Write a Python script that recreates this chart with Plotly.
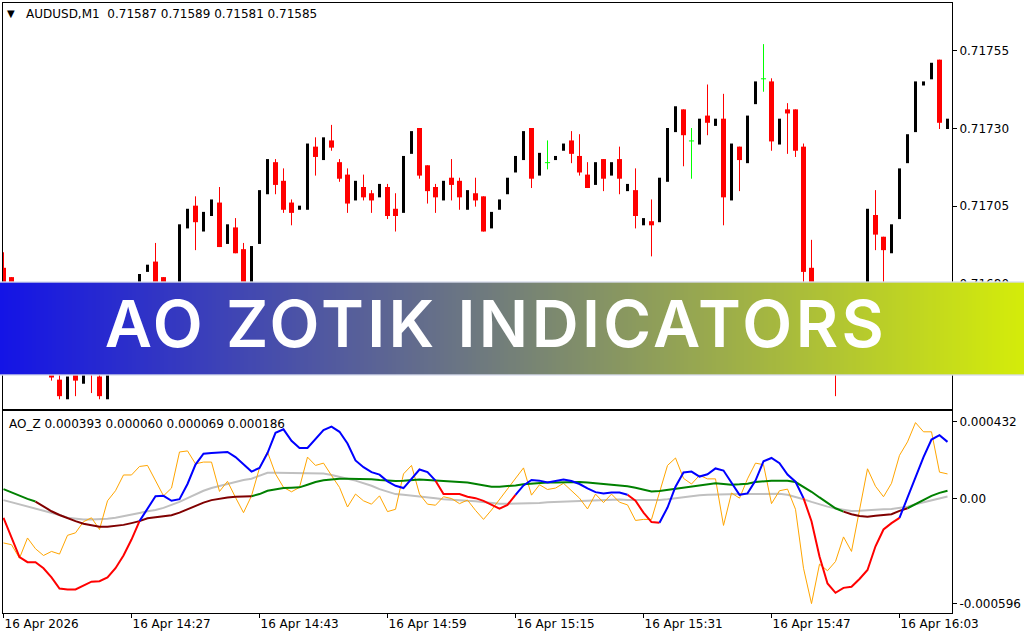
import plotly.graph_objects as go

# ---------------- data ----------------
time_labels = ["16 Apr 2026", "16 Apr 14:27", "16 Apr 14:43", "16 Apr 14:59",
               "16 Apr 15:15", "16 Apr 15:31", "16 Apr 15:47", "16 Apr 16:03"]
time_label_bars = [0, 16, 32, 48, 64, 80, 96, 112]

price_ticks = [0.71755, 0.71730, 0.71705, 0.71680, 0.71655]
ind_ticks = [0.000432, 0.0, -0.000596]
ind_tick_text = ["0.000432", "0.00", "-0.000596"]

header_main = "AUDUSD,M1\u00a0 0.71587 0.71589 0.71581 0.71585"
header_ind = "AO_Z 0.000393 0.000060 0.000069 0.000186"
banner_text = "AO ZOTIK INDICATORS"

open_ = [0.71685, 0.71682, 0.71668, 0.71662, 0.71666, 0.71657, 0.71653, 0.71649, 0.71643, 0.71652,
         0.71648, 0.71660, 0.71650, 0.71643, 0.71662, 0.71668, 0.71664, 0.71671, 0.71684, 0.71687,
         0.71682, 0.71670, 0.71678, 0.71698, 0.71705, 0.71697, 0.71702, 0.71706, 0.71693, 0.71698,
         0.71691, 0.71679, 0.71693, 0.71709, 0.71719, 0.71713, 0.71706, 0.71704, 0.71704, 0.71724,
         0.71720, 0.71726, 0.71719, 0.71715, 0.71707, 0.71711, 0.71709, 0.71708, 0.71711, 0.71704,
         0.71703, 0.71722, 0.71730, 0.71718, 0.71711, 0.71707, 0.71714, 0.71713, 0.71704, 0.71709,
         0.71708, 0.71698, 0.71704, 0.71709, 0.71716, 0.71720, 0.71730, 0.71715, 0.71719, 0.71720,
         0.71723, 0.71726, 0.71721, 0.71715, 0.71712, 0.71720, 0.71715, 0.71720, 0.71710, 0.71710,
         0.71699, 0.71700, 0.71700, 0.71713, 0.71729, 0.71736, 0.71726, 0.71725, 0.71734, 0.71731,
         0.71733, 0.71707, 0.71724, 0.71719, 0.71738, 0.71746, 0.71745, 0.71725, 0.71736, 0.71736,
         0.71724, 0.71685, 0.71664, 0.71656, 0.71660, 0.71654, 0.71662, 0.71668, 0.71664, 0.71702,
         0.71695, 0.71690, 0.71701, 0.71719, 0.71729, 0.71744, 0.71746, 0.71752, 0.71730]
high = [0.71690, 0.71682, 0.71670, 0.71666, 0.71667, 0.71659, 0.71654, 0.71651, 0.71650, 0.71653,
        0.71655, 0.71661, 0.71651, 0.71662, 0.71668, 0.71670, 0.71672, 0.71683, 0.71686, 0.71693,
        0.71682, 0.71678, 0.71699, 0.71704, 0.71708, 0.71703, 0.71707, 0.71711, 0.71699, 0.71701,
        0.71693, 0.71692, 0.71710, 0.71720, 0.71720, 0.71717, 0.71707, 0.71705, 0.71725, 0.71727,
        0.71727, 0.71731, 0.71720, 0.71717, 0.71713, 0.71715, 0.71710, 0.71712, 0.71712, 0.71709,
        0.71721, 0.71729, 0.71730, 0.71718, 0.71712, 0.71713, 0.71720, 0.71714, 0.71710, 0.71714,
        0.71708, 0.71703, 0.71707, 0.71714, 0.71721, 0.71729, 0.71730, 0.71722, 0.71726, 0.71721,
        0.71725, 0.71729, 0.71728, 0.71719, 0.71719, 0.71720, 0.71719, 0.71724, 0.71712, 0.71717,
        0.71701, 0.71707, 0.71714, 0.71730, 0.71737, 0.71736, 0.71730, 0.71733, 0.71744, 0.71733,
        0.71741, 0.71725, 0.71724, 0.71734, 0.71745, 0.71757, 0.71746, 0.71733, 0.71738, 0.71736,
        0.71725, 0.71694, 0.71666, 0.71660, 0.71662, 0.71662, 0.71668, 0.71670, 0.71704, 0.71710,
        0.71695, 0.71699, 0.71717, 0.71728, 0.71745, 0.71745, 0.71751, 0.71752, 0.71733]
low = [0.71673, 0.71665, 0.71660, 0.71662, 0.71655, 0.71652, 0.71649, 0.71643, 0.71643, 0.71644,
       0.71648, 0.71645, 0.71643, 0.71643, 0.71662, 0.71662, 0.71664, 0.71671, 0.71684, 0.71674,
       0.71668, 0.71670, 0.71678, 0.71698, 0.71691, 0.71697, 0.71702, 0.71692, 0.71693, 0.71690,
       0.71678, 0.71679, 0.71693, 0.71709, 0.71709, 0.71703, 0.71699, 0.71704, 0.71704, 0.71715,
       0.71720, 0.71723, 0.71713, 0.71703, 0.71707, 0.71707, 0.71703, 0.71708, 0.71701, 0.71697,
       0.71703, 0.71722, 0.71714, 0.71706, 0.71703, 0.71707, 0.71707, 0.71704, 0.71704, 0.71705,
       0.71697, 0.71698, 0.71704, 0.71709, 0.71716, 0.71720, 0.71711, 0.71715, 0.71717, 0.71720,
       0.71723, 0.71719, 0.71715, 0.71711, 0.71712, 0.71710, 0.71715, 0.71709, 0.71710, 0.71698,
       0.71699, 0.71689, 0.71700, 0.71713, 0.71729, 0.71718, 0.71714, 0.71725, 0.71728, 0.71731,
       0.71699, 0.71707, 0.71710, 0.71719, 0.71738, 0.71742, 0.71723, 0.71725, 0.71722, 0.71721,
       0.71680, 0.71660, 0.71653, 0.71656, 0.71644, 0.71654, 0.71662, 0.71662, 0.71664, 0.71691,
       0.71680, 0.71690, 0.71701, 0.71719, 0.71729, 0.71744, 0.71746, 0.71730, 0.71730]
close = [0.71675, 0.71668, 0.71662, 0.71666, 0.71657, 0.71654, 0.71650, 0.71644, 0.71650, 0.71649,
         0.71655, 0.71654, 0.71644, 0.71662, 0.71668, 0.71664, 0.71672, 0.71683, 0.71686, 0.71676,
         0.71670, 0.71678, 0.71699, 0.71704, 0.71700, 0.71703, 0.71707, 0.71692, 0.71699, 0.71690,
         0.71680, 0.71692, 0.71710, 0.71720, 0.71712, 0.71704, 0.71703, 0.71705, 0.71725, 0.71721,
         0.71727, 0.71724, 0.71714, 0.71706, 0.71713, 0.71708, 0.71707, 0.71712, 0.71702, 0.71702,
         0.71721, 0.71729, 0.71715, 0.71710, 0.71708, 0.71713, 0.71712, 0.71708, 0.71710, 0.71707,
         0.71697, 0.71703, 0.71707, 0.71714, 0.71721, 0.71729, 0.71714, 0.71722, 0.71719, 0.71721,
         0.71725, 0.71722, 0.71716, 0.71711, 0.71719, 0.71714, 0.71719, 0.71714, 0.71712, 0.71702,
         0.71701, 0.71699, 0.71714, 0.71730, 0.71737, 0.71728, 0.71726, 0.71733, 0.71732, 0.71733,
         0.71708, 0.71725, 0.71720, 0.71734, 0.71745, 0.71746, 0.71726, 0.71733, 0.71735, 0.71723,
         0.71684, 0.71664, 0.71656, 0.71660, 0.71654, 0.71662, 0.71668, 0.71664, 0.71704, 0.71696,
         0.71691, 0.71699, 0.71717, 0.71728, 0.71745, 0.71745, 0.71751, 0.71732, 0.71733]

# indicator values, in millionths (1e-6)
ao_main_micro = [-110, -224, -332, -361, -361, -395, -447, -510, -515, -515,
                 -494, -471, -468, -447, -395, -323, -233, -129, -56, 12,
                 14, -14, -5, 81, 191, 252, 256, 260, 262, 233,
                 190, 151, 172, 256, 370, 390, 325, 285, 285, 338,
                 386, 405, 376, 310, 214, 176, 148, 134, 96, 71,
                 58, 110, 163, 148, 100, 24, 24, 24, 9, 1,
                 -14, -37, -58, -37, 20, 73, 104, 100, 90, 98,
                 106, 98, 81, 56, 35, 28, 33, 33, 20, -14,
                 -81, -134, -138, -52, 66, 146, 151, 123, 136, 169,
                 157, 90, 20, 28, 100, 209, 228, 199, 134, 94,
                 1, -129, -329, -481, -534, -506, -500, -456, -405, -271,
                 -176, -140, -110, 1, 119, 233, 332, 357, 319]
ao_signal_micro = [52, 33, 12, -3, -18, -45, -73, -94, -113, -129,
                   -144, -153, -161, -161, -157, -150, -140, -129, -113, -106,
                   -100, -96, -81, -62, -43, -24, -10, -1, 5, 9,
                   10, 12, 24, 43, 52, 58, 60, 62, 77, 92,
                   102, 108, 111, 111, 111, 110, 108, 104, 100, 98,
                   100, 104, 106, 104, 102, 98, 96, 92, 89, 81,
                   70, 66, 66, 68, 73, 79, 83, 87, 89, 90,
                   92, 94, 92, 89, 85, 81, 77, 73, 68, 60,
                   50, 39, 41, 47, 56, 62, 66, 73, 79, 85,
                   81, 77, 79, 83, 92, 98, 100, 100, 100, 92,
                   66, 37, 5, -24, -56, -75, -90, -100, -104, -98,
                   -94, -90, -71, -56, -33, -10, 14, 31, 43]
ao_slow_micro = [-10, -22, -33, -45, -56, -66, -79, -94, -110, -115,
                 -119, -119, -119, -115, -110, -102, -94, -83, -73, -66,
                 -54, -39, -20, 1, 24, 43, 58, 70, 83, 94,
                 104, 111, 129, 144, 144, 144, 144, 142, 142, 142,
                 140, 132, 123, 111, 100, 87, 71, 52, 37, 24,
                 20, 16, 12, 7, 1, -5, -9, -10, -14, -16,
                 -22, -26, -30, -30, -30, -30, -28, -26, -22, -20,
                 -18, -18, -16, -14, -10, -9, -7, -7, -9, -10,
                 -10, -10, -9, -5, 1, 9, 14, 18, 20, 22,
                 24, 24, 24, 24, 24, 26, 28, 26, 20, 9,
                 -5, -20, -35, -47, -58, -66, -71, -70, -66, -64,
                 -62, -60, -54, -47, -33, -22, -9, 3, 10]
ao_raw_micro = [-252, -262, -338, -224, -285, -323, -300, -315, -209, -195,
                -132, -110, -176, -14, 43, 132, 132, 180, 186, 100,
                14, 58, 262, 268, 195, 205, 205, 39, 96, 5,
                -81, 14, 172, 262, 138, 62, 37, 62, 233, 186,
                199, 129, 62, -49, 24, -14, -33, 14, -75, -62,
                138, 186, 24, -33, -39, 9, -1, -30, -10, -68,
                -119, -66, -5, 54, 113, 172, 18, 77, 50, 58,
                85, 45, 1, -60, 24, -24, 24, -22, -37, -125,
                -119, -119, 37, 186, 228, 113, 81, 130, 110, 110,
                -153, 30, 1, 110, 199, 190, -30, 43, 52, -62,
                -395, -595, -372, -409, -357, -218, -300, -75, 167, 68,
                9, 85, 243, 319, 428, 376, 376, 148, 138]

# colour state of the coloured lines: (first bar of run, state)
main_color_runs = [(0, "down"), (17, "up"), (54, "down"), (64, "up"), (78, "down"),
                   (82, "up"), (100, "down"), (112, "up")]
signal_color_runs = [(0, "up"), (4, "down"), (31, "up"), (105, "down"), (113, "up")]

# ---------------- layout geometry ----------------
W, H = 1024, 640
ML, MR, MT, MB = 3, 72, 3, 27
PW, PH = W - ML - MR, H - MT - MB
main_dom = [0.3344, 1.0]
ind_dom = [0.0, 0.3307]
Y0, Y1 = 0.716397, 0.717704
IY0, IY1 = -0.000648, 0.000492
n = len(open_)
bars = list(range(n))
XR = [-0.0625, PW / 8.0 - 0.0625]


def pxx(px):
    return (px - ML) / PW


def pxy(py):
    return (MT + PH - py) / PH


price_per_px = (Y1 - Y0) / ((main_dom[1] - main_dom[0]) * PH)
half = 0.5 * price_per_px

fig = go.Figure()

# ---------------- candles ----------------
rw_x, rw_y, rb_x, rb_y, bk_x, bk_y, dj_x, dj_y = [], [], [], [], [], [], [], []
for i in bars:
    o, h, l, c = open_[i], high[i], low[i], close[i]
    if c < o:
        rw_x += [i, i, None]
        rw_y += [h + half, l - half, None]
        rb_x += [i, i, None]
        rb_y += [o + half, c - half, None]
    elif c > o:
        bk_x += [i, i, None]
        bk_y += [h + half, l - half, None]
    else:
        dj_x += [i, i, None, i - 0.32, i + 0.32, None]
        dj_y += [h + half, l - half, None, o, o, None]

common = dict(mode="lines", hoverinfo="skip", showlegend=False, xaxis="x", yaxis="y")
fig.add_trace(go.Scatter(x=rw_x, y=rw_y, line=dict(color="#ff0000", width=1), **common))
fig.add_trace(go.Scatter(x=rb_x, y=rb_y, line=dict(color="#ff0000", width=5), **common))
fig.add_trace(go.Scatter(x=bk_x, y=bk_y, line=dict(color="#000000", width=3), **common))
fig.add_trace(go.Scatter(x=dj_x, y=dj_y, line=dict(color="#00ff00", width=1), **common))

# ---------------- indicator ----------------
ao_main = [v * 1e-6 for v in ao_main_micro]
ao_signal = [v * 1e-6 for v in ao_signal_micro]
ao_slow = [v * 1e-6 for v in ao_slow_micro]
ao_raw = [v * 1e-6 for v in ao_raw_micro]

icommon = dict(mode="lines", hoverinfo="skip", showlegend=False, xaxis="x2", yaxis="y2")


def run_traces(values, runs, colors, width):
    groups = {}
    for k, (start, state) in enumerate(runs):
        end = runs[k + 1][0] if k + 1 < len(runs) else n - 1
        gx, gy = groups.setdefault(state, ([], []))
        gx += bars[start:end + 1] + [None]
        gy += values[start:end + 1] + [None]
    for state, (gx, gy) in groups.items():
        fig.add_trace(go.Scatter(x=gx, y=gy, line=dict(color=colors[state], width=width), **icommon))


fig.add_trace(go.Scatter(x=bars, y=ao_slow, line=dict(color="#c0c0c0", width=2), **icommon))
fig.add_trace(go.Scatter(x=bars, y=ao_raw, line=dict(color="#ffa500", width=1), **icommon))
run_traces(ao_signal, signal_color_runs, {"up": "#008000", "down": "#800000"}, 2)
run_traces(ao_main, main_color_runs, {"up": "#0000ff", "down": "#ff0000"}, 2)

# ---------------- banner ----------------
shapes = []
NB = 256
c_left = (20, 20, 230)
c_right = (212, 236, 10)
b_top, b_bot = 282, 375
for k in range(NB):
    t = k / (NB - 1)
    col = tuple(round(c_left[j] + (c_right[j] - c_left[j]) * t) for j in range(3))
    x0 = k * W / NB
    x1 = (k + 1) * W / NB + 0.6
    shapes.append(dict(type="rect", xref="paper", yref="paper", layer="above",
                       x0=pxx(x0), x1=pxx(x1), y0=pxy(b_bot), y1=pxy(b_top),
                       fillcolor="rgb(%d,%d,%d)" % col, line=dict(width=0)))
for yy in (b_top, b_bot):
    shapes.append(dict(type="line", xref="paper", yref="paper", layer="above",
                       x0=pxx(0), x1=pxx(W), y0=pxy(yy), y1=pxy(yy),
                       line=dict(color="rgba(215,220,235,0.9)", width=1.5)))

font_ui = dict(family="DejaVu Sans", size=12, color="#000000")
annotations = [
    dict(text="\u25bc", x=pxx(10.5), y=pxy(13), xref="paper", yref="paper",
         xanchor="center", yanchor="middle", showarrow=False,
         font=dict(family="DejaVu Sans", size=10, color="#000000")),
    dict(text=header_main, x=pxx(24), y=pxy(14), xref="paper", yref="paper",
         xanchor="left", yanchor="middle", showarrow=False, font=font_ui),
    dict(text=header_ind, x=pxx(7), y=pxy(424), xref="paper", yref="paper",
         xanchor="left", yanchor="middle", showarrow=False, font=font_ui),
    dict(text=banner_text, x=pxx(496), y=pxy(323.5), xref="paper", yref="paper",
         xanchor="center", yanchor="middle", showarrow=False,
         font=dict(family="Inter", size=65, color="#ffffff", weight=600)),
]

axis_common = dict(showgrid=False, zeroline=False, showline=True, mirror=True,
                   linecolor="#000000", linewidth=1, fixedrange=True)

fig.update_layout(
    width=W, height=H,
    margin=dict(l=ML, r=MR, t=MT, b=MB, pad=0, autoexpand=False),
    paper_bgcolor="#ffffff", plot_bgcolor="#ffffff",
    showlegend=False,
    xaxis=dict(domain=[0, 1], range=XR, anchor="y", showticklabels=False, ticks="",
               **axis_common),
    yaxis=dict(domain=main_dom, range=[Y0, Y1], anchor="x", side="right",
               tickvals=price_ticks, ticktext=["%.5f" % v for v in price_ticks],
               ticks="outside", ticklen=4, tickcolor="#000000", tickfont=font_ui,
               **axis_common),
    xaxis2=dict(domain=[0, 1], range=XR, anchor="y2", tickvals=time_label_bars,
                ticktext=time_labels, ticks="outside", ticklen=4, tickcolor="#000000",
                ticklabelposition="outside right", tickfont=font_ui, **axis_common),
    yaxis2=dict(domain=ind_dom, range=[IY0, IY1], anchor="x2", side="right",
                tickvals=ind_ticks, ticktext=ind_tick_text,
                ticks="outside", ticklen=4, tickcolor="#000000", tickfont=font_ui,
                **axis_common),
    shapes=shapes,
    annotations=annotations,
)

post_js = (
    "document.body.style.margin='0';document.body.style.overflow='hidden';"
    "document.querySelectorAll('.annotation-text').forEach(function(t){"
    "if(t.textContent.indexOf('ZOTIK')>=0){t.style.letterSpacing='3.4px';}});"
)
fig.write_html("out.html", config={"displayModeBar": False}, post_script=post_js)
